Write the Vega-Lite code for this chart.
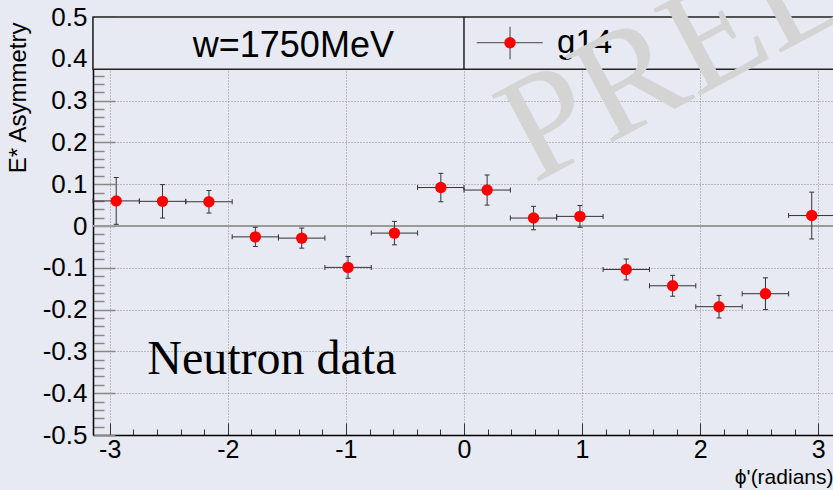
{
  "$schema": "https://vega.github.io/schema/vega-lite/v6.json",
  "width": 740,
  "height": 418,
  "autosize": {"type": "none"},
  "padding": {"left": 93, "top": 17, "right": 0, "bottom": 55},
  "background": "#e7eaf2",
  "config": {
    "view": {"stroke": null},
    "axis": {"labelFont": "Liberation Sans", "titleFont": "Liberation Sans", "labelColor": "#000000", "titleColor": "#000000", "titleFontWeight": "normal"}
  },
  "datasets": {
    "pts": [
      {"phi": -2.945, "phiLo": -3.141, "phiHi": -2.749, "E": 0.060, "ELo": 0.004, "EHi": 0.116},
      {"phi": -2.553, "phiLo": -2.749, "phiHi": -2.356, "E": 0.059, "ELo": 0.019, "EHi": 0.099},
      {"phi": -2.160, "phiLo": -2.356, "phiHi": -1.963, "E": 0.058, "ELo": 0.031, "EHi": 0.085},
      {"phi": -1.767, "phiLo": -1.963, "phiHi": -1.571, "E": -0.026, "ELo": -0.049, "EHi": -0.003},
      {"phi": -1.374, "phiLo": -1.571, "phiHi": -1.178, "E": -0.029, "ELo": -0.053, "EHi": -0.005},
      {"phi": -0.982, "phiLo": -1.178, "phiHi": -0.785, "E": -0.099, "ELo": -0.125, "EHi": -0.073},
      {"phi": -0.589, "phiLo": -0.785, "phiHi": -0.393, "E": -0.017, "ELo": -0.045, "EHi": 0.011},
      {"phi": -0.196, "phiLo": -0.393, "phiHi": 0.000, "E": 0.092, "ELo": 0.058, "EHi": 0.126},
      {"phi": 0.196, "phiLo": 0.000, "phiHi": 0.393, "E": 0.086, "ELo": 0.050, "EHi": 0.122},
      {"phi": 0.589, "phiLo": 0.393, "phiHi": 0.785, "E": 0.019, "ELo": -0.009, "EHi": 0.047},
      {"phi": 0.982, "phiLo": 0.785, "phiHi": 1.178, "E": 0.023, "ELo": -0.003, "EHi": 0.049},
      {"phi": 1.374, "phiLo": 1.178, "phiHi": 1.571, "E": -0.104, "ELo": -0.129, "EHi": -0.079},
      {"phi": 1.767, "phiLo": 1.571, "phiHi": 1.963, "E": -0.143, "ELo": -0.168, "EHi": -0.118},
      {"phi": 2.160, "phiLo": 1.963, "phiHi": 2.356, "E": -0.193, "ELo": -0.220, "EHi": -0.166},
      {"phi": 2.553, "phiLo": 2.356, "phiHi": 2.749, "E": -0.162, "ELo": -0.200, "EHi": -0.124},
      {"phi": 2.945, "phiLo": 2.749, "phiHi": 3.141, "E": 0.025, "ELo": -0.031, "EHi": 0.081}
    ]
  },
  "resolve": {"axis": {"x": "independent", "y": "independent"}},
  "layer": [
    {
      "data": {"values": [{"a": -3.1416, "b": 3.1416, "z": 0}]},
      "mark": {"type": "rule", "color": "#9a9a9a", "strokeWidth": 2},
      "encoding": {
        "x": {"field": "a", "type": "quantitative", "scale": {"domain": [-3.1416, 3.125], "nice": false, "zero": false},
          "axis": {"orient": "bottom", "values": [-2.8, -2.6, -2.4, -2.2, -1.8, -1.6, -1.4, -1.2, -0.8, -0.6, -0.4, -0.2, 0.2, 0.4, 0.6, 0.8, 1.2, 1.4, 1.6, 1.8, 2.2, 2.4, 2.6, 2.8],
            "labels": false, "grid": false, "domain": false, "ticks": true, "tickSize": -6, "tickColor": "#333333", "tickWidth": 1, "title": null}},
        "x2": {"field": "b"},
        "y": {"field": "z", "type": "quantitative", "scale": {"domain": [-0.5, 0.5], "nice": false, "zero": false},
          "axis": {"orient": "left", "values": [-0.48, -0.46, -0.44, -0.42, -0.38, -0.36, -0.34, -0.32, -0.28, -0.26, -0.24, -0.22, -0.18, -0.16, -0.14, -0.12, -0.08, -0.06, -0.04, -0.02, 0.02, 0.04, 0.06, 0.08, 0.12, 0.14, 0.16, 0.18, 0.22, 0.24, 0.26, 0.28, 0.32, 0.34, 0.36, 0.38],
            "labels": false, "grid": false, "domain": false, "ticks": true, "tickSize": -11, "tickColor": "#888888", "tickWidth": 1.5, "title": null}}
      }
    },
    {
      "data": {"name": "pts"},
      "mark": {"type": "rule", "color": "#333333", "strokeWidth": 1},
      "encoding": {
        "x": {"field": "phiLo", "type": "quantitative", "scale": {"domain": [-3.1416, 3.125], "nice": false, "zero": false},
          "axis": {"orient": "bottom", "values": [-3, -2, -1, 0, 1, 2, 3], "labels": false, "grid": false, "domain": false, "ticks": true, "tickSize": -12, "tickColor": "#333333", "tickWidth": 1, "title": null}},
        "x2": {"field": "phiHi"},
        "y": {"field": "E", "type": "quantitative", "scale": {"domain": [-0.5, 0.5], "nice": false, "zero": false},
          "axis": {"orient": "left", "values": [-0.5, -0.4, -0.3, -0.2, -0.1, 0, 0.1, 0.2, 0.3, 0.4, 0.5], "labels": false, "grid": false, "domain": false, "ticks": true, "tickSize": -22, "tickColor": "#888888", "tickWidth": 1.5, "title": null}}
      }
    },
    {
      "data": {"name": "pts"},
      "mark": {"type": "rule", "color": "#333333", "strokeWidth": 1},
      "encoding": {
        "x": {"field": "phi", "type": "quantitative", "scale": {"domain": [-3.1416, 3.125], "nice": false, "zero": false},
          "axis": {"orient": "bottom", "values": [-3, -2, -1, 0, 1, 2, 3], "ticks": false, "domain": true, "domainColor": "#000000", "domainWidth": 1.5,
            "grid": true, "gridColor": "#8a8a8a", "gridDash": [1, 2], "gridWidth": 1,
            "labelFontSize": 25, "labelPadding": 2, "labelExpr": "(datum.value < 0 ? '-' : '') + format(abs(datum.value), 'd')",
            "title": "ϕ'(radians)", "titleFontSize": 21, "titleAnchor": null, "titleX": 740, "titleY": 48, "titleAlign": "right", "titleBaseline": "alphabetic"}},
        "y": {"field": "ELo", "type": "quantitative", "scale": {"domain": [-0.5, 0.5], "nice": false, "zero": false},
          "axis": {"orient": "left", "values": [-0.5, -0.4, -0.3, -0.2, -0.1, 0, 0.1, 0.2, 0.3, 0.4, 0.5], "ticks": false, "domain": true, "domainColor": "#000000", "domainWidth": 1.5,
            "grid": true, "gridColor": "#8a8a8a", "gridDash": [1, 2], "gridWidth": 1,
            "labelFontSize": 26, "labelPadding": 6, "labelExpr": "datum.value == 0 ? '0' : (datum.value < 0 ? '-' : '') + format(abs(datum.value), '.1f')",
            "title": "E* Asymmetry", "titleFontSize": 24, "titleAnchor": null, "titleAngle": -90, "titleX": -68, "titleY": 5, "titleAlign": "right", "titleBaseline": "alphabetic"}},
        "y2": {"field": "EHi"}
      }
    },
    {
      "data": {"name": "pts"},
      "mark": {"type": "tick", "orient": "horizontal", "size": 5, "thickness": 1, "color": "#333333", "opacity": 1},
      "encoding": {
        "x": {"field": "phi", "type": "quantitative", "axis": null},
        "y": {"field": "ELo", "type": "quantitative", "axis": null}
      }
    },
    {
      "data": {"name": "pts"},
      "mark": {"type": "tick", "orient": "horizontal", "size": 5, "thickness": 1, "color": "#333333", "opacity": 1},
      "encoding": {
        "x": {"field": "phi", "type": "quantitative", "axis": null},
        "y": {"field": "EHi", "type": "quantitative", "axis": null}
      }
    },
    {
      "data": {"name": "pts"},
      "mark": {"type": "tick", "orient": "vertical", "size": 5, "thickness": 1, "color": "#333333", "opacity": 1},
      "encoding": {
        "x": {"field": "phiLo", "type": "quantitative", "axis": null},
        "y": {"field": "E", "type": "quantitative", "axis": null}
      }
    },
    {
      "data": {"name": "pts"},
      "mark": {"type": "tick", "orient": "vertical", "size": 5, "thickness": 1, "color": "#333333", "opacity": 1},
      "encoding": {
        "x": {"field": "phiHi", "type": "quantitative", "axis": null},
        "y": {"field": "E", "type": "quantitative", "axis": null}
      }
    },
    {
      "data": {"name": "pts"},
      "mark": {"type": "circle", "size": 130, "color": "#ff0000", "opacity": 1},
      "encoding": {
        "x": {"field": "phi", "type": "quantitative", "axis": null},
        "y": {"field": "E", "type": "quantitative", "axis": null}
      }
    },
    {
      "data": {"values": [{"x1": -3.1416, "x2": 3.1416, "y1": 0.375, "y2": 0.5}]},
      "mark": {"type": "rect", "fill": "#e7eaf2", "stroke": "#222222", "strokeWidth": 1.5},
      "encoding": {
        "x": {"field": "x1", "type": "quantitative", "axis": null},
        "x2": {"field": "x2"},
        "y": {"field": "y1", "type": "quantitative", "axis": null},
        "y2": {"field": "y2"}
      }
    },
    {
      "data": {"values": [{"x": 0, "y1": 0.375, "y2": 0.5}]},
      "mark": {"type": "rule", "color": "#222222", "strokeWidth": 1.5},
      "encoding": {
        "x": {"field": "x", "type": "quantitative", "axis": null},
        "y": {"field": "y1", "type": "quantitative", "axis": null},
        "y2": {"field": "y2"}
      }
    },
    {
      "data": {"values": [{"t": "w=1750MeV", "x": -1.445, "y": 0.405}]},
      "mark": {"type": "text", "font": "Liberation Sans", "fontSize": 36, "align": "center", "baseline": "alphabetic", "color": "#000000"},
      "encoding": {
        "x": {"field": "x", "type": "quantitative", "axis": null},
        "y": {"field": "y", "type": "quantitative", "axis": null},
        "text": {"field": "t"}
      }
    },
    {
      "data": {"values": [{"x1": 0.108, "x2": 0.667, "y": 0.4385}]},
      "mark": {"type": "rule", "color": "#444444", "strokeWidth": 1},
      "encoding": {
        "x": {"field": "x1", "type": "quantitative", "axis": null},
        "x2": {"field": "x2"},
        "y": {"field": "y", "type": "quantitative", "axis": null}
      }
    },
    {
      "data": {"values": [{"x": 0.39, "y1": 0.3988, "y2": 0.4768}]},
      "mark": {"type": "rule", "color": "#444444", "strokeWidth": 1},
      "encoding": {
        "x": {"field": "x", "type": "quantitative", "axis": null},
        "y": {"field": "y1", "type": "quantitative", "axis": null},
        "y2": {"field": "y2"}
      }
    },
    {
      "data": {"values": [{"x": 0.39, "y": 0.4385}]},
      "mark": {"type": "circle", "size": 130, "color": "#ff0000", "opacity": 1},
      "encoding": {
        "x": {"field": "x", "type": "quantitative", "axis": null},
        "y": {"field": "y", "type": "quantitative", "axis": null}
      }
    },
    {
      "data": {"values": [{"t": "g14", "x": 0.788, "y": 0.413}]},
      "mark": {"type": "text", "font": "Liberation Sans", "fontSize": 33, "align": "left", "baseline": "alphabetic", "color": "#000000"},
      "encoding": {
        "x": {"field": "x", "type": "quantitative", "axis": null},
        "y": {"field": "y", "type": "quantitative", "axis": null},
        "text": {"field": "t"}
      }
    },
    {
      "data": {"values": [{"t": "Neutron data", "x": -2.682, "y": -0.354}]},
      "mark": {"type": "text", "font": "Liberation Serif", "fontSize": 48, "align": "left", "baseline": "alphabetic", "color": "#000000"},
      "encoding": {
        "x": {"field": "x", "type": "quantitative", "axis": null},
        "y": {"field": "y", "type": "quantitative", "axis": null},
        "text": {"field": "t"}
      }
    },
    {
      "data": {"values": [{"t": "PRELIMINARY", "x": 0.59, "y": 0.1005}]},
      "mark": {"type": "text", "font": "Liberation Serif", "fontSize": 150, "angle": -28, "align": "left", "baseline": "alphabetic", "color": "#d4d4d4"},
      "encoding": {
        "x": {"field": "x", "type": "quantitative", "axis": null},
        "y": {"field": "y", "type": "quantitative", "axis": null},
        "text": {"field": "t"}
      }
    }
  ]
}
